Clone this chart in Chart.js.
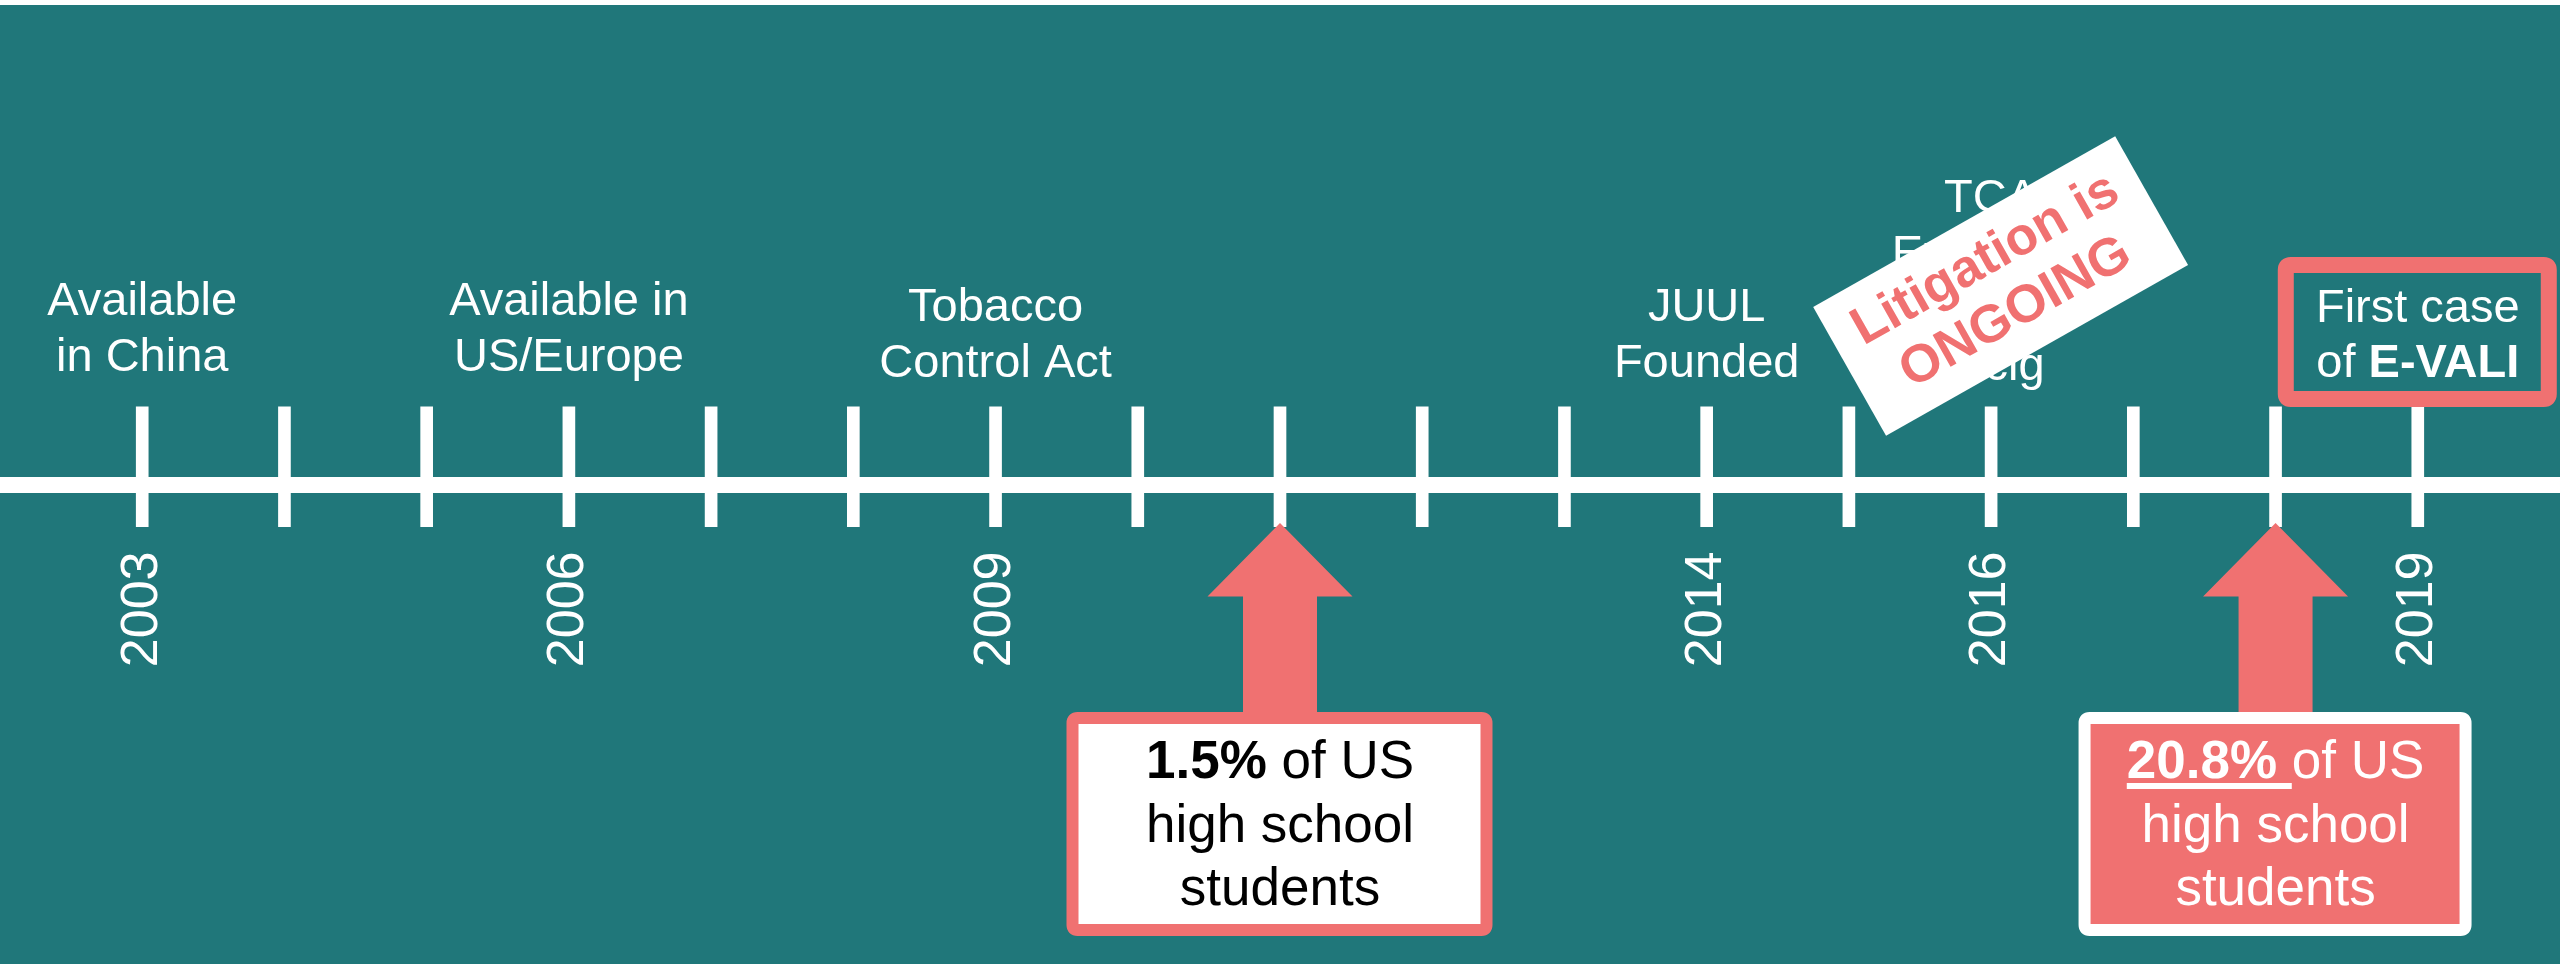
<!DOCTYPE html>
<html>
<head>
<meta charset="utf-8">
<title>E-cigarette timeline</title>
<script src="https://cdn.jsdelivr.net/npm/chart.js@4.4.1/dist/chart.umd.min.js"></script>
<style>
  html, body { margin: 0; padding: 0; background: #ffffff; }
  #wrap { position: absolute; left: 0; top: 5px; width: 2560px; height: 959px; background: #20777a; }
</style>
</head>
<body>
<div id="wrap"><canvas id="timeline"></canvas></div>
<script>
// Timeline data
const years = [2003, 2004, 2005, 2006, 2007, 2008, 2009, 2010, 2011, 2012, 2013, 2014, 2015, 2016, 2017, 2018, 2019];
const yearLabels = [2003, 2006, 2009, 2014, 2016, 2019];
const tickRange = [-4.4, 8.1];

const eventYears = [2003, 2006, 2009, 2014, 2016];
const eventTexts = [
  ['Available', 'in China'],
  ['Available in', 'US/Europe'],
  ['Tobacco', 'Control Act'],
  ['JUUL', 'Founded'],
  ['TCA', 'Extended', 'to', 'E-cig']
];

const usageYears = [2011, 2018];
const usageShares = ['1.5%', '20.8%'];
const usageRest = ['high school', 'students'];

const evaliYear = 2019;
const litigationYear = 2016;
const litigationText = ['Litigation is', 'ONGOING'];

const WHITE = '#ffffff';
const SALMON = '#f07171';
const FONT = "'Liberation Sans', Arial, sans-serif";

function boxPath(ctx, x, y, w, h, r) {
  ctx.beginPath();
  ctx.moveTo(x + r, y);
  ctx.lineTo(x + w - r, y);
  ctx.quadraticCurveTo(x + w, y, x + w, y + r);
  ctx.lineTo(x + w, y + h - r);
  ctx.quadraticCurveTo(x + w, y + h, x + w - r, y + h);
  ctx.lineTo(x + r, y + h);
  ctx.quadraticCurveTo(x, y + h, x, y + h - r);
  ctx.lineTo(x, y + r);
  ctx.quadraticCurveTo(x, y, x + r, y);
  ctx.closePath();
}

// draws a line made of plain / bold / underlined runs, centred on cx
function drawRuns(ctx, runs, cx, base, size, color) {
  const fonts = runs.map(r => (r.bold ? 'bold ' : '') + size + 'px ' + FONT);
  const widths = runs.map((r, i) => { ctx.font = fonts[i]; return ctx.measureText(r.text).width; });
  let x = cx - widths.reduce((a, b) => a + b, 0) / 2;
  ctx.fillStyle = color;
  ctx.textAlign = 'left';
  ctx.textBaseline = 'alphabetic';
  runs.forEach((r, i) => {
    ctx.font = fonts[i];
    ctx.fillText(r.text, x, base);
    if (r.underline) ctx.fillRect(x, base + 5, widths[i], 6);
    x += widths[i];
  });
}

const timelineNotes = {
  id: 'timelineNotes',
  afterDraw(chart) {
    const { ctx, scales: { x, y } } = chart;
    const axisY = y.getPixelForValue(0);
    ctx.save();

    // event labels above the line
    const lastBase = [-113.5, -113.5, -107.5, -107.5, -104.5];
    ctx.font = '47px ' + FONT;
    ctx.fillStyle = WHITE;
    ctx.textAlign = 'center';
    ctx.textBaseline = 'alphabetic';
    eventYears.forEach((yr, i) => {
      const lines = eventTexts[i];
      const px = x.getPixelForValue(yr);
      lines.forEach((t, j) => {
        ctx.fillText(t, px, axisY + lastBase[i] - (lines.length - 1 - j) * 56);
      });
    });

    // litigation stamp over the TCA label
    ctx.save();
    ctx.translate(x.getPixelForValue(litigationYear) + 9.5, axisY - 198.5);
    ctx.rotate(-29.5 * Math.PI / 180);
    ctx.fillStyle = WHITE;
    ctx.fillRect(-173.5, -74, 347, 148);
    ctx.fillStyle = SALMON;
    ctx.font = 'bold 53px ' + FONT;
    ctx.textAlign = 'center';
    ctx.textBaseline = 'middle';
    ctx.fillText(litigationText[0], 0, -30);
    ctx.fillText(litigationText[1], 0, 31);
    ctx.restore();

    // first case of E-VALI
    const ex = x.getPixelForValue(evaliYear);
    ctx.strokeStyle = SALMON;
    ctx.lineWidth = 16;
    boxPath(ctx, ex - 132, axisY - 219.5, 263, 134, 5);
    ctx.stroke();
    drawRuns(ctx, [{ text: 'First case' }], ex, axisY - 162.5, 47, WHITE);
    drawRuns(ctx, [{ text: 'of ' }, { text: 'E-VALI', bold: true }], ex, axisY - 107.5, 47, WHITE);

    // usage arrows and boxes
    const boxLeft = [-207.5, -191];
    const boxWidth = [414, 381];
    usageYears.forEach((yr, i) => {
      const px = x.getPixelForValue(yr);
      ctx.fillStyle = SALMON;
      ctx.beginPath();
      ctx.moveTo(px, axisY + 38.5);
      ctx.lineTo(px + 72.5, axisY + 112);
      ctx.lineTo(px + 37, axisY + 112);
      ctx.lineTo(px + 37, axisY + 236);
      ctx.lineTo(px - 37, axisY + 236);
      ctx.lineTo(px - 37, axisY + 112);
      ctx.lineTo(px - 72.5, axisY + 112);
      ctx.closePath();
      ctx.fill();

      const filled = i === 1;
      boxPath(ctx, px + boxLeft[i], axisY + 233.5, boxWidth[i], 212, 5);
      ctx.fillStyle = filled ? SALMON : WHITE;
      ctx.fill();
      ctx.strokeStyle = filled ? WHITE : SALMON;
      ctx.lineWidth = 12;
      ctx.stroke();

      const txt = filled ? WHITE : '#000000';
      const first = filled
        ? [{ text: usageShares[i] + ' ', bold: true, underline: true }, { text: 'of US' }]
        : [{ text: usageShares[i], bold: true }, { text: ' of US' }];
      drawRuns(ctx, first, px, axisY + 293.5, 53, txt);
      drawRuns(ctx, [{ text: usageRest[0] }], px, axisY + 357.5, 53, txt);
      drawRuns(ctx, [{ text: usageRest[1] }], px, axisY + 420.5, 53, txt);
    });

    ctx.restore();
  }
};

const ctx = document.getElementById('timeline').getContext('2d');
new Chart(ctx, {
  type: 'bar',
  data: {
    datasets: [{
      data: years.map(yr => ({ x: yr, y: tickRange })),
      backgroundColor: WHITE,
      borderWidth: 0,
      barThickness: 12
    }]
  },
  options: {
    responsive: true,
    maintainAspectRatio: false,
    animation: false,
    layout: { padding: 0 },
    plugins: { legend: { display: false }, tooltip: { enabled: false } },
    scales: {
      x: {
        type: 'linear',
        min: 2002,
        max: 2020,
        offset: false,
        position: { y: 0 },
        grid: { display: false, drawTicks: false, offset: false },
        border: { display: true, color: WHITE, width: 16 },
        ticks: {
          stepSize: 1,
          autoSkip: false,
          minRotation: 90,
          maxRotation: 90,
          padding: 67,
          color: WHITE,
          font: { family: FONT, size: 52 },
          callback: v => yearLabels.includes(v) ? String(v) : ''
        },
        // the line runs edge to edge, so no room is kept for the end labels
        afterFit: scale => { scale.paddingLeft = 0; scale.paddingRight = 0; }
      },
      y: { type: 'linear', min: -50, max: 50, display: false }
    }
  },
  plugins: [timelineNotes]
});
</script>
</body>
</html>
